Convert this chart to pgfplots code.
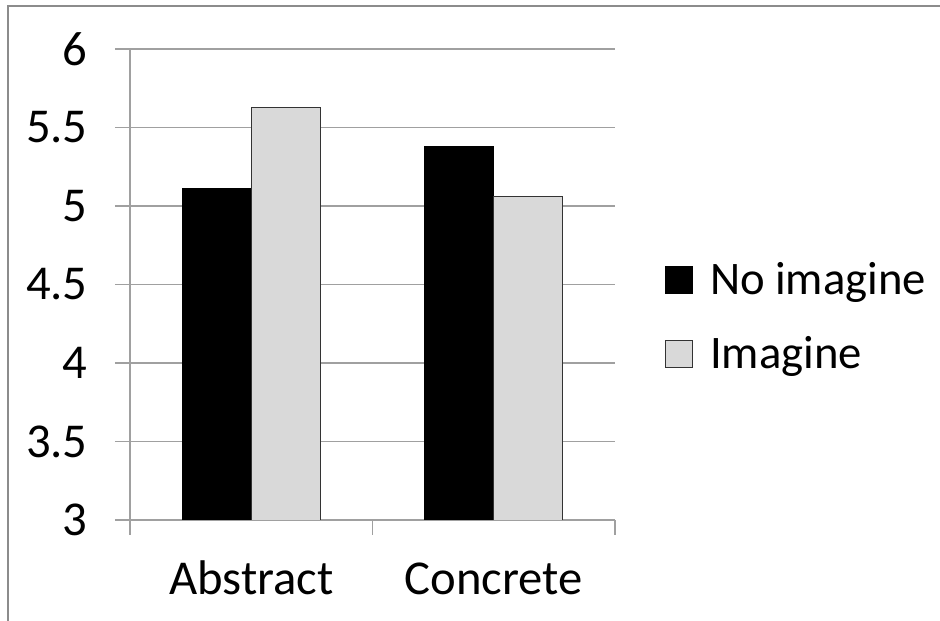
\documentclass[border=0pt]{standalone}
\usepackage{fontspec}
\setmainfont{Carlito}
\usepackage{pgfplots}
\pgfplotsset{compat=1.18}
\definecolor{gridgray}{HTML}{A0A0A0}
\definecolor{framegray}{HTML}{8C8C8C}
\definecolor{barlight}{HTML}{D9D9D9}
\pgfplotsset{sqlegend/.style={legend image code/.code={\draw[##1,line width=0.6pt] (0pt,-10.125pt) rectangle (20.25pt,10.125pt); \path (31pt,0pt);}}}
\begin{document}
\begin{tikzpicture}
\useasboundingbox (0,0) rectangle (705pt,465.75pt);
\begin{scope}
\clip (0,0) rectangle (705pt,465.75pt);
\draw[framegray,line width=1.5pt] (6pt,-10pt) -- (6pt,461.25pt) -- (720pt,461.25pt);
\end{scope}
\begin{axis}[
  scale only axis,
  width=363.75pt, height=353.25pt,
  anchor=south west, at={(97.5pt,75.75pt)},
  xmin=-0.5, xmax=1.5, ymin=3, ymax=6,
  ytick={3,3.5,4,4.5,5,5.5,6},
  /pgf/number format/assume math mode=true,
  axis x line*=bottom, axis y line*=left,
  axis line style={gridgray,line width=0.8pt,-},
  ymajorgrids, major grid style={gridgray,line width=0.8pt},
  tick align=outside, major tick length=11.25pt,
  tick style={gridgray,line width=0.8pt},
  xtick={-0.5,0.5,1.5}, xticklabels={},
  extra x ticks={0,1}, extra x tick labels={Abstract,Concrete},
  extra x tick style={major tick length=0pt, tick style={draw=none},
    xticklabel style={text height=0.75em, text depth=0pt, yshift=-45pt}},
  ticklabel style={font=\fontsize{36.5}{44}\selectfont, text=black},
  yticklabel style={xshift=-17pt},
  ybar=0pt, bar width=0.2845,
  legend style={draw=none, fill=none, at={(1.103,0.432)}, anchor=west,
    font=\fontsize{35}{42}\selectfont, row sep=26pt, inner sep=0pt,
    cells={anchor=west}},
]
\addplot[fill=black, draw=black, line width=0.6pt, sqlegend] coordinates {(0,5.11) (1,5.38)};
\addplot[fill=barlight, draw=black!80, line width=0.6pt, sqlegend] coordinates {(0,5.625) (1,5.06)};
\legend{No imagine, Imagine}
\end{axis}
\end{tikzpicture}
\end{document}
